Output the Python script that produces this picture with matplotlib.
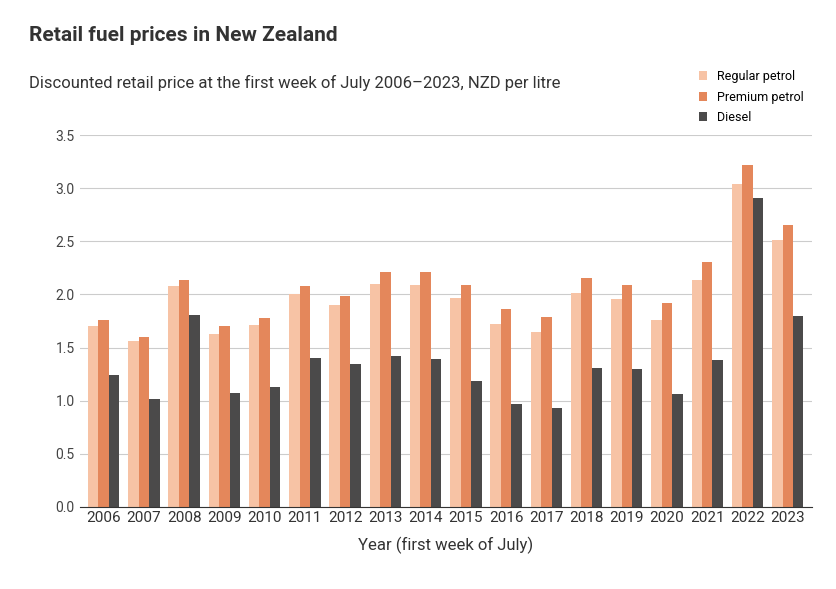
import numpy as np
import matplotlib.pyplot as plt

years = [str(y) for y in range(2006, 2024)]
regular = [1.70, 1.56, 2.08, 1.63, 1.71, 2.00, 1.90, 2.10, 2.09, 1.97, 1.72, 1.65, 2.01, 1.96, 1.76, 2.14, 3.04, 2.51]
premium = [1.76, 1.60, 2.14, 1.70, 1.78, 2.08, 1.99, 2.21, 2.21, 2.09, 1.86, 1.79, 2.16, 2.09, 1.92, 2.31, 3.22, 2.66]
diesel = [1.24, 1.01, 1.81, 1.07, 1.13, 1.40, 1.34, 1.42, 1.39, 1.18, 0.97, 0.93, 1.31, 1.30, 1.06, 1.38, 2.91, 1.80]

plt.rcParams['font.family'] = ['Roboto', 'DejaVu Sans']
fig = plt.figure(figsize=(8.37, 5.89), dpi=100)
ax = fig.add_axes([0.095, 0.14, 0.875, 0.63])

x = np.arange(len(years))
w = 0.26
ax.bar(x - w, regular, w, color='#f7c3a5', label='Regular petrol')
ax.bar(x, premium, w, color='#e4875b', label='Premium petrol')
ax.bar(x + w, diesel, w, color='#4b4a4a', label='Diesel')

ax.set_xlim(-0.6, len(years) - 0.4)
ax.set_ylim(0, 3.5)
ax.set_yticks(np.arange(0, 3.6, 0.5))
ax.set_yticklabels([f'{v:.1f}' for v in np.arange(0, 3.6, 0.5)], color='#444')
ax.set_xticks(x)
ax.set_xticklabels(years, fontsize=11, color='#333')
ax.tick_params(axis='y', length=0, labelsize=10)
ax.tick_params(axis='x', length=0)
ax.grid(axis='y', color='#cccccc', linewidth=0.8)
ax.set_axisbelow(True)
for s in ['top', 'right', 'left']:
    ax.spines[s].set_visible(False)
ax.spines['bottom'].set_color('#333')
ax.set_xlabel('Year (first week of July)', fontsize=12, color='#333', labelpad=8)

fig.text(0.035, 0.93, 'Retail fuel prices in New Zealand', fontsize=15, fontweight='bold', color='#333')
fig.text(0.035, 0.85, 'Discounted retail price at the first week of July 2006\u20132023, NZD per litre',
         fontsize=12, color='#333')
ax.legend(loc='lower left', bbox_to_anchor=(0.83, 1.0), frameon=False, fontsize=9,
          handlelength=0.7, handleheight=0.7, labelspacing=0.6)

fig.savefig('out.png', dpi=100, facecolor='white')
